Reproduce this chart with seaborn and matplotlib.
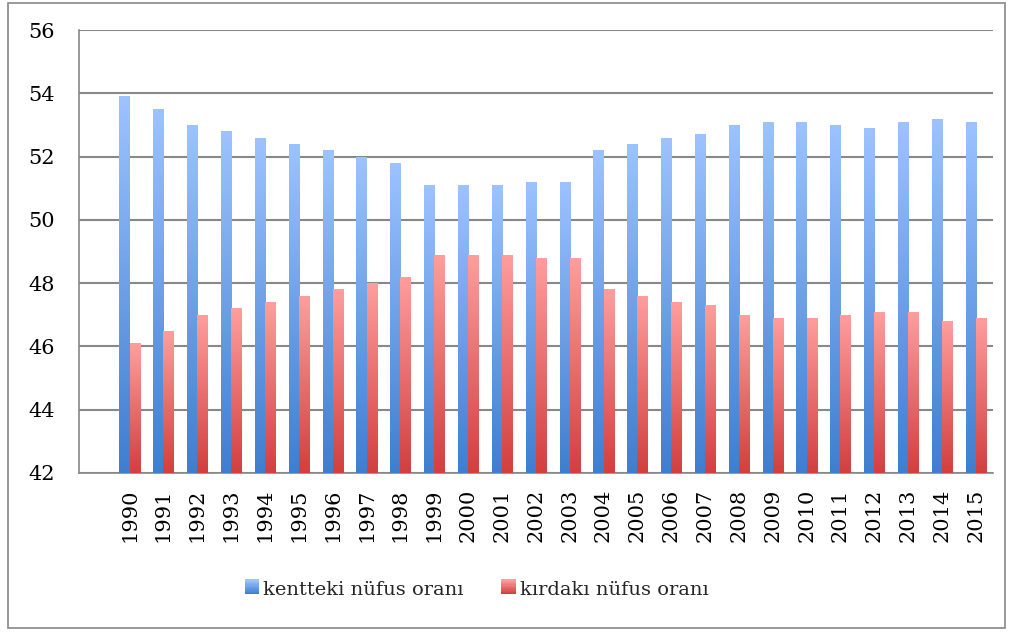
import numpy as np
import pandas as pd
import matplotlib
matplotlib.use("Agg")
import matplotlib.pyplot as plt
import seaborn as sns
from matplotlib.colors import LinearSegmentedColormap
from matplotlib.patches import Rectangle
from matplotlib.legend_handler import HandlerBase

years = [str(y) for y in range(1990, 2016)]
urban = [53.9, 53.5, 53.0, 52.8, 52.6, 52.4, 52.2, 52.0, 51.8, 51.1, 51.1, 51.1, 51.2,
         51.2, 52.2, 52.4, 52.6, 52.7, 53.0, 53.1, 53.1, 53.0, 52.9, 53.1, 53.2, 53.1]
rural = [46.1, 46.5, 47.0, 47.2, 47.4, 47.6, 47.8, 48.0, 48.2, 48.9, 48.9, 48.9, 48.8,
         48.8, 47.8, 47.6, 47.4, 47.3, 47.0, 46.9, 46.9, 47.0, 47.1, 47.1, 46.8, 46.9]
series_names = ["kentteki nüfus oranı", "kırdakı nüfus oranı"]
yticks = [42, 44, 46, 48, 50, 52, 54, 56]

grad = {
    series_names[0]: ("#9dc3ff", "#3f7ecf"),
    series_names[1]: ("#ff9e9e", "#d23f3f"),
}

df = pd.DataFrame({
    "yil": years * 2,
    "deger": urban + rural,
    "seri": [series_names[0]] * len(years) + [series_names[1]] * len(years),
})

sns.set_style("white")
plt.rcParams["font.family"] = ["DejaVu Serif"]

fig = plt.figure(figsize=(10.10, 6.32), dpi=100)
ax = fig.add_axes([0.078, 0.2516, 0.905, 0.7009])

order = [""] + years
sns.barplot(data=df, x="yil", y="deger", hue="seri", order=order,
            hue_order=series_names, palette=[grad[s][1] for s in series_names],
            width=0.6, gap=0, ax=ax, legend=False, saturation=1)

ax.set_ylim(42, 56)
ax.set_xlim(-0.5, len(order) - 0.5)

# gradient fill per bar
cmaps = {s: LinearSegmentedColormap.from_list(s, [grad[s][1], grad[s][0]]) for s in series_names}
n = len(years)
bars = [p for p in ax.patches if p.get_height() == p.get_height() and p.get_height() > 0]
for i, p in enumerate(bars):
    s = series_names[0] if i < n else series_names[1]
    x0, w = p.get_x(), p.get_width()
    y0, h = p.get_y(), p.get_height()
    gimg = np.linspace(0, 1, 256).reshape(-1, 1)
    im = ax.imshow(gimg, cmap=cmaps[s], origin="lower", aspect="auto",
                   extent=[x0, x0 + w, 42, y0 + h], zorder=3)
    im.set_clip_path(p)
    p.set_facecolor("none")
    p.set_edgecolor("none")
    p.set_zorder(3)

ax.set_ylim(42, 56)
ax.set_xlim(-0.5, len(order) - 0.5)

ax.set_yticks(yticks)
ax.set_yticklabels([str(t) for t in yticks], fontsize=15, color="black")
ax.set_xticks(range(len(order)))
ax.set_xticklabels(order, rotation=90, fontsize=15, color="black")
ax.set_xticks(np.arange(-0.5, len(order), 1.0), minor=True)
ax.tick_params(axis="x", which="major", length=0, pad=11)
ax.tick_params(axis="x", which="minor", length=5, color="#888888", width=1.2, direction="out")
ax.tick_params(axis="y", length=6.5, color="#888888", width=1.2, direction="out", pad=11)
ax.set_xlabel("")
ax.set_ylabel("")

ax.grid(axis="y", color="#888888", linewidth=1.5, zorder=0)
ax.set_axisbelow(True)
for side in ["top", "right"]:
    ax.spines[side].set_visible(False)
for side in ["left", "bottom"]:
    ax.spines[side].set_color("#888888")
    ax.spines[side].set_linewidth(1.2)


class GradHandler(HandlerBase):
    def __init__(self, key):
        super().__init__()
        self.key = key

    def create_artists(self, legend, orig_handle, xdescent, ydescent, width, height, fontsize, trans):
        size = min(width, height)
        artists = []
        steps = 12
        cm = cmaps[self.key]
        for k in range(steps):
            r = Rectangle((xdescent + width - size, ydescent + size * k / steps), size, size / steps + 0.3,
                          facecolor=cm(k / (steps - 1)), edgecolor="none", transform=trans)
            artists.append(r)
        return artists


handles = [Rectangle((0, 0), 1, 1) for _ in series_names]
ax.legend(handles, series_names, loc="center", bbox_to_anchor=(0.435, -0.264),
          ncol=2, frameon=False, fontsize=14, handlelength=0.8, handleheight=0.8,
          handletextpad=0.2, columnspacing=1.9,
          handler_map={handles[0]: GradHandler(series_names[0]), handles[1]: GradHandler(series_names[1])})

fig.patches.append(Rectangle((0.008, 0.006), 0.987, 0.99, transform=fig.transFigure,
                             fill=False, edgecolor="#888888", linewidth=1.2))

fig.savefig("out.png", dpi=100)
